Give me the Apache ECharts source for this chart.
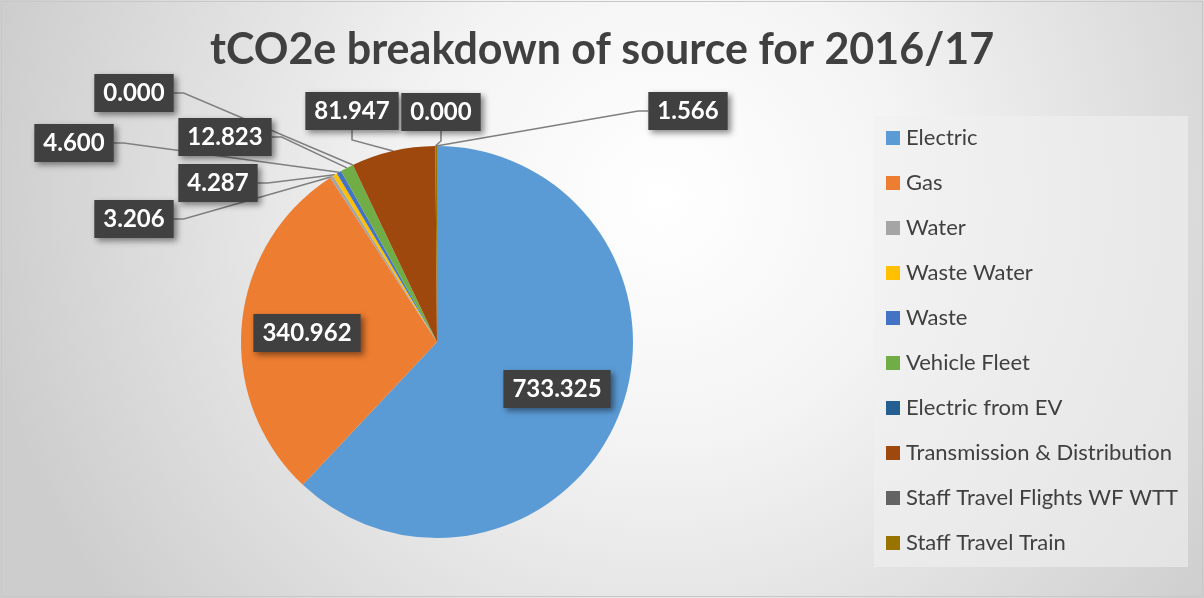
<!DOCTYPE html>
<html>
<head>
<meta charset="utf-8">
<script src="https://cdn.jsdelivr.net/npm/echarts@6/dist/echarts.min.js"></script>
<style>html,body{margin:0;padding:0;background:#fff}#c{width:1204px;height:598px}</style>
</head>
<body>
<div id="c"></div>
<script>
const categories = ['Electric','Gas','Water','Waste Water','Waste','Vehicle Fleet','Electric from EV','Transmission & Distribution','Staff Travel Flights WF WTT','Staff Travel Train'];
const values = [733.325, 340.962, 3.206, 4.287, 4.600, 12.823, 0.000, 81.947, 0.000, 1.566];
const colors = ['#5B9BD5','#ED7D31','#A5A5A5','#FFC000','#4472C4','#70AD47','#255E91','#9E480E','#636363','#997300'];
const titleText = 'tCO2e breakdown of source for 2016/17';
// label box centres (layout only)
const labelPos = [[557,389],[307,333],[134,219],[218,183],[74,143],[225,137],[134,93],[352,111],[441,112],[688,111]];

const chart = echarts.init(document.getElementById('c'));
const FONT = 'Lato';
chart.setOption({
  backgroundColor: {type:'radial', x:0.55, y:0.33, r:1.15, colorStops:[{offset:0,color:'#ffffff'},{offset:0.35,color:'#f4f4f4'},{offset:1,color:'#cdcdcd'}]},
  animation:false,
  title:{text:titleText, left:'center', top:24, textStyle:{fontFamily:FONT, fontWeight:'bold', fontSize:43, color:'#404040'}},
  graphic:[
    {type:'rect', shape:{x:874,y:116,width:314,height:451}, style:{fill:'rgba(240,240,240,0.6)'}, z:-1},
    {type:'rect', shape:{x:1.5,y:1.5,width:1201,height:595}, style:{fill:null, stroke:'#c8c8c8', lineWidth:1}, z:-1}
  ],
  legend:{orient:'vertical', left:886, top:127, padding:0, itemWidth:14, itemHeight:14, itemGap:23, icon:'rect',
    textStyle:{fontFamily:FONT, fontSize:22, lineHeight:22, color:'#404040', padding:[0,0,0,1]}, data:categories},
  series:[{
    type:'pie', center:[437,342], radius:196, startAngle:90, clockwise:true,
    avoidLabelOverlap:false, minAngle:0,
    color:colors,
    data: categories.map((n,i)=>({name:n, value:values[i], labelLine:{show:i>1}})),
    label:{show:true, position:'outside', formatter:p=>p.value.toFixed(3),
      fontFamily:FONT, fontWeight:'bold', fontSize:24, color:'#ffffff', backgroundColor:'#404040',
      padding:[8,9,6,9], shadowColor:'rgba(0,0,0,0.45)', shadowBlur:6, shadowOffsetX:3, shadowOffsetY:3},
    labelLine:{show:true, length:10, length2:10, lineStyle:{color:'#7f7f7f', width:1.5}},
    labelLayout: p => ({x:labelPos[p.dataIndex][0], y:labelPos[p.dataIndex][1], align:'center', verticalAlign:'middle'}),
    emphasis:{disabled:true}
  }]
});
</script>
</body>
</html>
